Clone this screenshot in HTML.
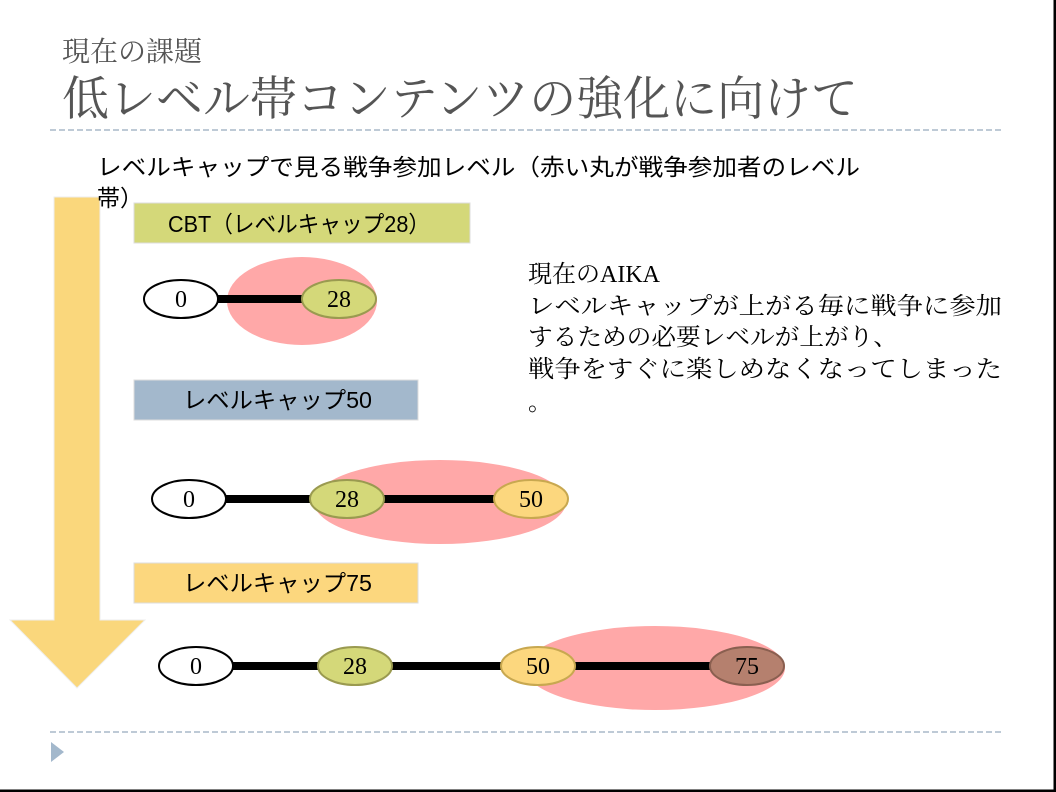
<!DOCTYPE html>
<html><head><meta charset="utf-8"><style>
html,body{margin:0;padding:0;background:#fff;}
svg{display:block;}
.s{font-family:"Liberation Serif","Noto Serif CJK SC",serif;}
.g{font-family:"Liberation Sans","Noto Sans CJK JP",sans-serif;}
</style></head><body>
<svg width="1056" height="792" viewBox="0 0 1056 792">
<rect x="0" y="0" width="1056" height="792" fill="#fff"/>
<line x1="1055" y1="0" x2="1055" y2="792" stroke="#000" stroke-width="3"/>
<line x1="0" y1="791" x2="1056" y2="791" stroke="#000" stroke-width="3"/>
<text class="s" x="62" y="61" font-size="28" fill="#555">現在の課題</text>
<text class="s" x="62" y="115" font-size="47" fill="#555" textLength="796" lengthAdjust="spacingAndGlyphs">低レベル帯コンテンツの強化に向けて</text>
<line x1="50" y1="130" x2="1002" y2="130" stroke="#a8b8c8" stroke-width="1.5" stroke-dasharray="6,3"/>
<line x1="50" y1="732" x2="1002" y2="732" stroke="#a8b8c8" stroke-width="1.5" stroke-dasharray="6,3"/>
<polygon points="51,742 64,752 51,762" fill="#a3b8cc"/>
<polygon points="54,197 100,197 100,620 145,620 77,688 10,620 54,620" fill="#fad77c" stroke="#eee" stroke-width="1"/>
<text class="g" x="97" y="175" font-size="23" fill="#000" textLength="763" lengthAdjust="spacingAndGlyphs">レベルキャップで見る戦争参加レベル（赤い丸が戦争参加者のレベル</text>
<text class="g" x="97" y="206" font-size="23" fill="#000">帯）</text>
<rect x="134" y="203" width="336" height="40" fill="#d4d879" stroke="#ddd"/>
<text class="g" x="168" y="232" font-size="23" textLength="262" lengthAdjust="spacingAndGlyphs">CBT（レベルキャップ28）</text>
<rect x="134" y="380" width="284" height="40" fill="#a3b8cc" stroke="#ddd"/>
<text class="g" x="183" y="408" font-size="23" textLength="189" lengthAdjust="spacingAndGlyphs">レベルキャップ50</text>
<rect x="134" y="563" width="284" height="40" fill="#fcd77e" stroke="#ddd"/>
<text class="g" x="183" y="591" font-size="23" textLength="189" lengthAdjust="spacingAndGlyphs">レベルキャップ75</text>
<g class="s" font-size="24" text-anchor="middle">
<ellipse cx="302" cy="301" rx="75" ry="44" fill="#ffa8a8"/>
<line x1="215" y1="299" x2="305" y2="299" stroke="#000" stroke-width="8"/>
<ellipse cx="181" cy="299" rx="37" ry="19" fill="#fff" stroke="#000" stroke-width="2"/>
<text x="181" y="307">0</text>
<ellipse cx="339" cy="299" rx="37" ry="19" fill="#d4d879" stroke="#9a9a50" stroke-width="2"/>
<text x="339" y="307">28</text>

<ellipse cx="440" cy="502" rx="126" ry="42" fill="#ffa8a8"/>
<line x1="226" y1="499" x2="494" y2="499" stroke="#000" stroke-width="8"/>
<ellipse cx="189" cy="499" rx="37" ry="19" fill="#fff" stroke="#000" stroke-width="2"/>
<text x="189" y="507">0</text>
<ellipse cx="347" cy="499" rx="37" ry="19" fill="#d4d879" stroke="#9a9a50" stroke-width="2"/>
<text x="347" y="507">28</text>
<ellipse cx="531" cy="499" rx="37" ry="19" fill="#fcd77e" stroke="#c8a850" stroke-width="2"/>
<text x="531" y="507">50</text>

<ellipse cx="655" cy="668" rx="130" ry="42" fill="#ffa8a8"/>
<line x1="233" y1="666" x2="710" y2="666" stroke="#000" stroke-width="8"/>
<ellipse cx="196" cy="666" rx="37" ry="19" fill="#fff" stroke="#000" stroke-width="2"/>
<text x="196" y="674">0</text>
<ellipse cx="355" cy="666" rx="37" ry="19" fill="#d4d879" stroke="#9a9a50" stroke-width="2"/>
<text x="355" y="674">28</text>
<ellipse cx="538" cy="666" rx="37" ry="19" fill="#fcd77e" stroke="#c8a850" stroke-width="2"/>
<text x="538" y="674">50</text>
<ellipse cx="747" cy="666" rx="37" ry="19" fill="#b5806e" stroke="#8a5f50" stroke-width="2"/>
<text x="747" y="674">75</text>
</g>
<g class="s" font-size="24" fill="#000">
<text x="528" y="282">現在のAIKA</text>
<text x="528" y="314" textLength="474" lengthAdjust="spacingAndGlyphs">レベルキャップが上がる毎に戦争に参加</text>
<text x="528" y="345" textLength="370" lengthAdjust="spacingAndGlyphs">するための必要レベルが上がり、</text>
<text x="528" y="377" textLength="474" lengthAdjust="spacingAndGlyphs">戦争をすぐに楽しめなくなってしまった</text>
<text x="528" y="410">。</text>
</g>
</svg>
</body></html>
